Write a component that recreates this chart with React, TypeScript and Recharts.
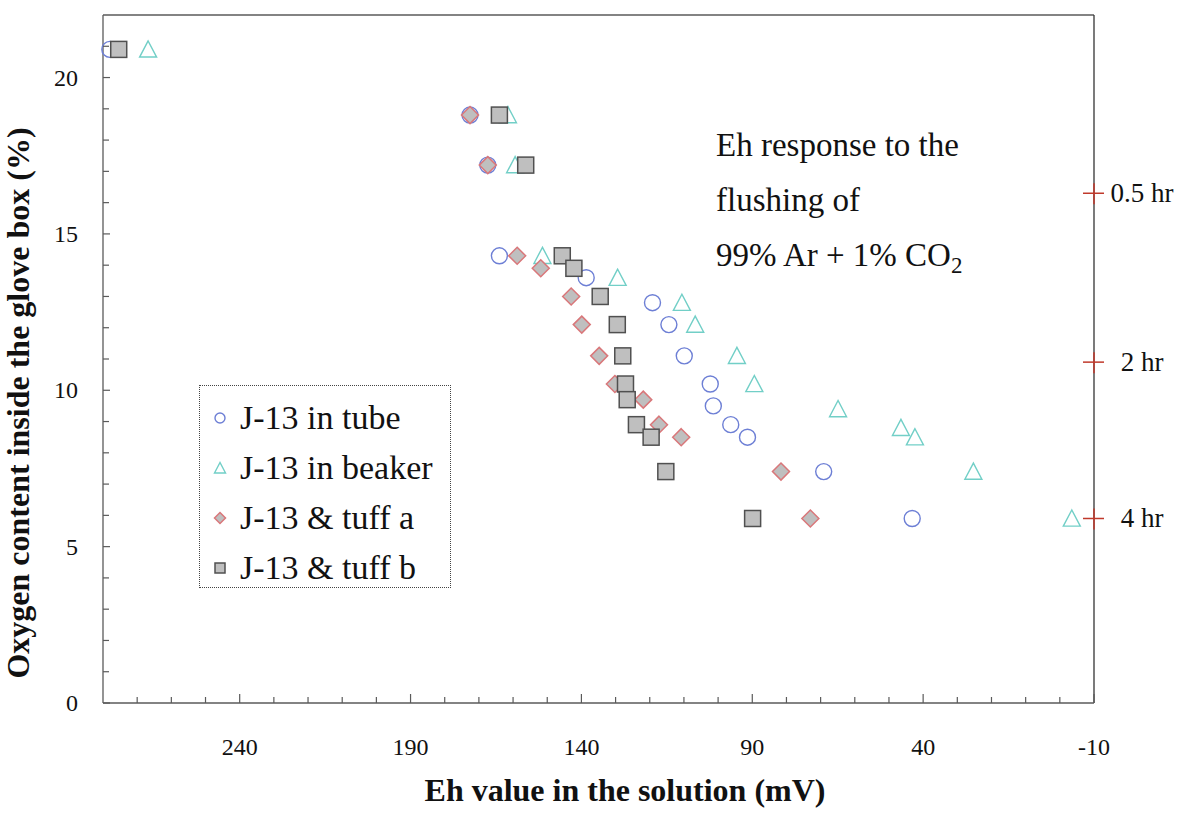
import React from 'react';
import { ScatterChart, Scatter, XAxis, YAxis, ReferenceLine, Legend, Customized } from 'recharts';

// Eh (mV) and O2 (%), one pair of arrays per series
const tubeEh = [278, 172.6, 167.4, 164.0, 138.6, 119.2, 114.4, 109.9, 102.3, 101.4, 96.3, 91.4, 69.1, 43.2];
const tubeO2 = [20.9, 18.8, 17.2, 14.3, 13.6, 12.8, 12.1, 11.1, 10.2, 9.5, 8.9, 8.5, 7.4, 5.9];

const beakerEh = [266.8, 161.5, 159.4, 151.4, 129.4, 110.6, 106.7, 94.5, 89.4, 64.9, 46.5, 42.4, 25.3, -3.5];
const beakerO2 = [20.9, 18.8, 17.2, 14.3, 13.6, 12.8, 12.1, 11.1, 10.2, 9.4, 8.8, 8.5, 7.4, 5.9];

const tuffAEh = [172.6, 167.4, 158.8, 151.9, 143.0, 139.9, 134.8, 130.2, 121.9, 117.3, 110.8, 81.6, 73.0];
const tuffAO2 = [18.8, 17.2, 14.3, 13.9, 13.0, 12.1, 11.1, 10.2, 9.7, 8.9, 8.5, 7.4, 5.9];

const tuffBEh = [275.4, 164.0, 156.3, 145.6, 142.2, 134.5, 129.5, 127.9, 127.1, 126.6, 123.9, 119.6, 115.3, 89.9];
const tuffBO2 = [20.9, 18.8, 17.2, 14.3, 13.9, 13.0, 12.1, 11.1, 10.2, 9.7, 8.9, 8.5, 7.4, 5.9];

// flushing-time markers on the right edge
const timeLabels = ['0.5 hr', '2 hr', '4 hr'];
const timeEh = [-10, -10, -10];
const timeO2 = [16.3, 10.9, 5.9];

const seriesNames = ['J-13 in tube', 'J-13 in beaker', 'J-13 & tuff a', 'J-13 & tuff b'];

const xTicks = [270, 260, 250, 240, 230, 220, 210, 200, 190, 180, 170, 160, 150, 140, 130, 120, 110, 100, 90, 80, 70, 60, 50, 40, 30, 20, 10, 0, -10];
const xMajor = [240, 190, 140, 90, 40, -10];
const yTicks = [0, 1, 2, 3, 4, 5, 6, 7, 8, 9, 10, 11, 12, 13, 14, 15, 16, 17, 18, 19, 20, 21];
const yMajor = [0, 5, 10, 15, 20];

const SERIF = '"Liberation Serif", "Times New Roman", serif';
const AXIS = '#5a5a5a';
const BLUE = '#6d7fd5';
const CYAN = '#72cfc7';
const PINK = '#d9777a';
const GREY = '#bfbfbf';
const RED = '#c0392b';

const pairs = (eh: number[], o2: number[]) => eh.map((v, i) => ({ eh: v, o2: o2[i] }));
const tubeData = pairs(tubeEh, tubeO2);
const beakerData = pairs(beakerEh, beakerO2);
const tuffAData = pairs(tuffAEh, tuffAO2);
const tuffBData = pairs(tuffBEh, tuffBO2);
const timeData = timeEh.map((v, i) => ({ eh: v, o2: timeO2[i], label: timeLabels[i] }));

function OpenCircle({ cx, cy, r = 8 }: any) {
  return <circle cx={cx} cy={cy} r={r} fill="none" stroke={BLUE} strokeWidth={1.4} />;
}

function OpenTriangle({ cx, cy, s = 8.5 }: any) {
  return (
    <polygon
      points={`${cx},${cy - s} ${cx - s},${cy + s * 0.9} ${cx + s},${cy + s * 0.9}`}
      fill="none"
      stroke={CYAN}
      strokeWidth={1.4}
    />
  );
}

function Diamond({ cx, cy, s = 8.5 }: any) {
  return (
    <polygon
      points={`${cx},${cy - s} ${cx + s},${cy} ${cx},${cy + s} ${cx - s},${cy}`}
      fill={GREY}
      stroke={PINK}
      strokeWidth={1.5}
    />
  );
}

function Square({ cx, cy, s = 8 }: any) {
  return <rect x={cx - s} y={cy - s} width={2 * s} height={2 * s} fill={GREY} stroke="#505050" strokeWidth={1.5} />;
}

function TimeMark({ cx, cy, payload }: any) {
  return (
    <g>
      <line x1={cx - 11} x2={cx + 10} y1={cy} y2={cy} stroke={RED} strokeWidth={1.5} />
      <line x1={cx} x2={cx} y1={cy - 10} y2={cy + 11} stroke={RED} strokeWidth={1.5} />
      <text x={cx + 48} y={cy + 9} textAnchor="middle" fontSize={27} fontFamily={SERIF} fill="#111">
        {payload.label}
      </text>
    </g>
  );
}

function XTick({ x, y, payload }: any) {
  const major = xMajor.includes(payload.value);
  return (
    <g>
      <line x1={x} x2={x} y1={y} y2={y - (major ? 9 : 6)} stroke={AXIS} strokeWidth={1.2} />
      {major && (
        <text x={x} y={y + 52} textAnchor="middle" fontSize={24} fontFamily={SERIF} fill="#111">
          {payload.value}
        </text>
      )}
    </g>
  );
}

function YTick({ x, y, payload }: any) {
  const major = yMajor.includes(payload.value);
  return (
    <g>
      <line x1={x} x2={x + (major ? 7 : 6)} y1={y} y2={y} stroke={AXIS} strokeWidth={1.2} />
      {major && (
        <text x={x - 25} y={y + 8} textAnchor="end" fontSize={24} fontFamily={SERIF} fill="#111">
          {payload.value}
        </text>
      )}
    </g>
  );
}

function Annotations() {
  return (
    <g fontFamily={SERIF} fill="#111">
      <text x={716} y={156} fontSize={33}>Eh response to the</text>
      <text x={716} y={211} fontSize={33}>flushing of</text>
      <text x={716} y={266} fontSize={33}>
        99% Ar + 1% CO<tspan fontSize={23} dy={7}>2</tspan>
      </text>
      <text x={625} y={801} fontSize={32} fontWeight="bold" textAnchor="middle">
        Eh value in the solution (mV)
      </text>
      <text
        x={29}
        y={403}
        fontSize={32}
        fontWeight="bold"
        textAnchor="middle"
        transform="rotate(-90 29 403)"
      >
        Oxygen content inside the glove box (%)
      </text>
    </g>
  );
}

const legendIcons = [
  <OpenCircle cx={10} cy={10} r={5} />,
  <OpenTriangle cx={10} cy={10} s={5.5} />,
  <Diamond cx={10} cy={10} s={5.5} />,
  <Square cx={10} cy={10} s={5} />,
];

function LegendBox() {
  return (
    <div
      style={{
        boxSizing: 'border-box',
        width: 252,
        height: 203,
        border: '1px dotted #444',
        paddingTop: 7,
        fontFamily: SERIF,
        fontSize: 34,
        color: '#111',
        background: '#fff',
      }}
    >
      {seriesNames.map((name, i) => (
        <div key={name} style={{ height: 50, display: 'flex', alignItems: 'center' }}>
          <svg width={20} height={20} style={{ marginLeft: 10, marginRight: 10 }}>
            {legendIcons[i]}
          </svg>
          <span style={{ lineHeight: '50px', whiteSpace: 'nowrap' }}>{name}</span>
        </div>
      ))}
    </div>
  );
}

export default function App() {
  return (
    <div style={{ position: 'absolute', left: 0, top: 0, background: '#fff' }}>
      <ScatterChart width={1200} height={813} margin={{ top: 15, right: 106, bottom: 0, left: 0 }}>
        <XAxis
          type="number"
          dataKey="eh"
          domain={[-10, 280]}
          reversed
          ticks={xTicks}
          interval={0}
          tickSize={0}
          tickMargin={0}
          tickLine={false}
          tick={XTick}
          height={110}
          axisLine={{ stroke: AXIS, strokeWidth: 1.3 }}
        />
        <YAxis
          type="number"
          dataKey="o2"
          domain={[0, 22]}
          ticks={yTicks}
          interval={0}
          tickSize={0}
          tickMargin={0}
          tickLine={false}
          tick={YTick}
          width={103}
          axisLine={{ stroke: AXIS, strokeWidth: 1.3 }}
        />
        <ReferenceLine y={22} stroke={AXIS} strokeWidth={1.3} />
        <ReferenceLine x={-10} stroke="#333" strokeWidth={1.3} />
        <Scatter name={seriesNames[0]} data={tubeData} shape={OpenCircle} isAnimationActive={false} />
        <Scatter name={seriesNames[1]} data={beakerData} shape={OpenTriangle} isAnimationActive={false} />
        <Scatter name={seriesNames[2]} data={tuffAData} shape={Diamond} isAnimationActive={false} />
        <Scatter name={seriesNames[3]} data={tuffBData} shape={Square} isAnimationActive={false} />
        <Scatter data={timeData} shape={TimeMark} legendType="none" isAnimationActive={false} />
        <Customized component={Annotations} />
        <Legend
          layout="vertical"
          align="center"
          verticalAlign="middle"
          wrapperStyle={{ left: 199, top: 385, width: 252, height: 203 }}
          content={() => <LegendBox />}
        />
      </ScatterChart>
    </div>
  );
}
